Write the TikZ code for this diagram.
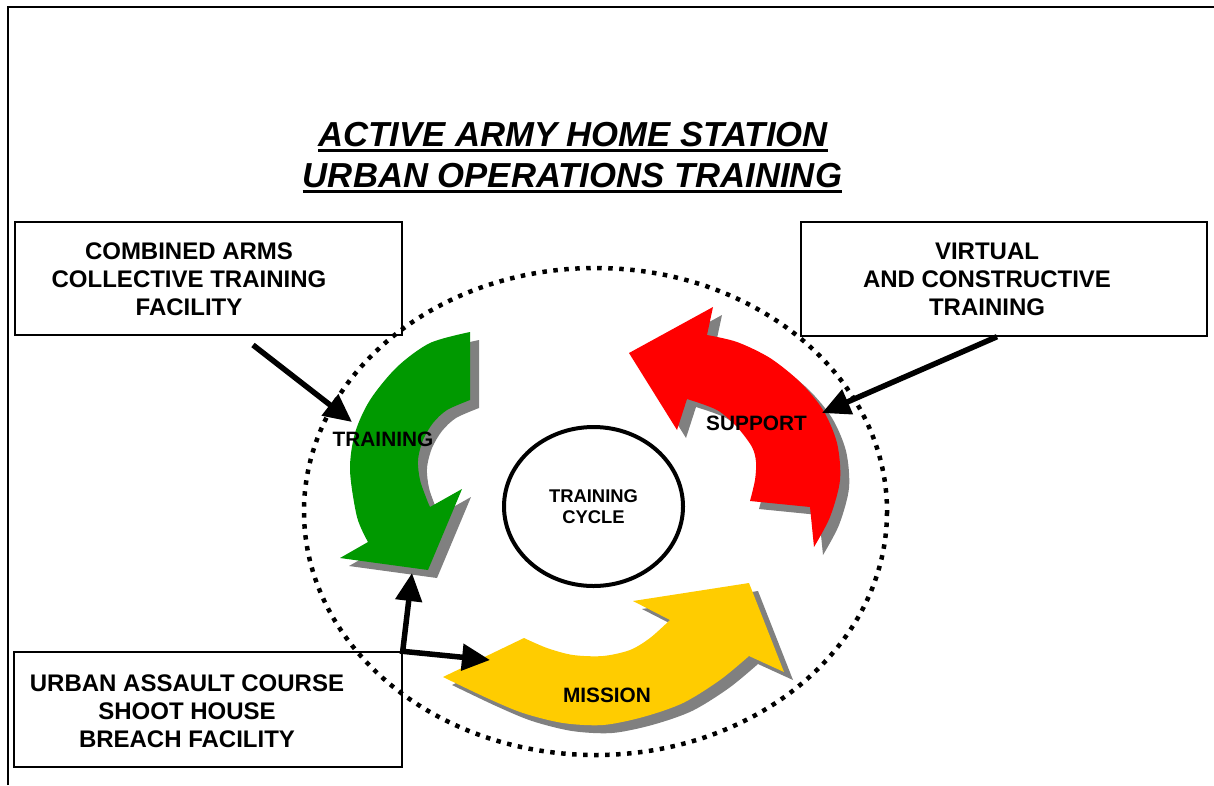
\documentclass[tikz,border=0pt]{standalone}
\usepackage{fontspec}
\setmainfont{Liberation Sans}
\usepackage{tikz}
\usetikzlibrary{shapes.geometric,arrows.meta,positioning}

\definecolor{armygreen}{RGB}{0,153,0}
\definecolor{supportred}{RGB}{255,0,0}
\definecolor{missionyellow}{RGB}{255,204,0}
\definecolor{shadowgray}{RGB}{128,128,128}

\tikzset{
    infobox/.style={draw, line width=1.4, inner sep=0},
    boxtext/.style={align=center, inner sep=0, font=\fontsize{24}{28}\selectfont\bfseries},
    arrowtext/.style={inner sep=0, font=\fontsize{20.8}{24}\selectfont\bfseries},
    titletext/.style={anchor=base, inner sep=0, font=\fontsize{34.7}{41}\selectfont\bfseries\itshape},
    underbar/.style={line width=2.6},
    pointer/.style={line width=5.5, -{Triangle[length=28pt,width=26pt]}},
}

% curved arrow with its grey drop shadow
\newcommand{\cyclearrow}[2]{%
    \fill[shadowgray, shift={(9,8)}] #2;
    \fill[#1] #2;
}

\begin{document}
\begin{tikzpicture}[x=1pt, y=-1pt]
    \useasboundingbox (0,0) rectangle (1214,785);

    % page frame
    \draw[line width=2] (7.5,785) -- (7.5,6.5) -- (1214,6.5);

    % title, underlined
    \node[titletext] (titleTop) at (573,146) {ACTIVE ARMY HOME STATION};
    \node[titletext] (titleBottom) at (572.5,187) {URBAN OPERATIONS TRAINING};
    \foreach \t in {titleTop, titleBottom}
        \draw[underbar] ([yshift=-4.5pt]\t.base west) -- ([yshift=-4.5pt]\t.base east);

    % facility boxes
    \node[infobox, minimum width=387, minimum height=113] (combined) at (208.5,278.5) {};
    \node[infobox, minimum width=406, minimum height=114] (virtual) at (1004,279) {};
    \node[infobox, minimum width=388, minimum height=115] (urban) at (208,709.5) {};
    \node[boxtext] (combinedText) at (189,279.6) {COMBINED ARMS\\COLLECTIVE TRAINING\\FACILITY};
    \node[boxtext] (virtualText) at (987,279.6) {VIRTUAL\\AND CONSTRUCTIVE\\TRAINING};
    \node[boxtext] (urbanText) at (187,711.6) {URBAN ASSAULT COURSE\\SHOOT HOUSE\\BREACH FACILITY};

    % dotted ring round the cycle
    \draw[line width=4.5, dash pattern=on 4.5pt off 6.5pt] (595.5,511.5) ellipse [x radius=291.5, y radius=243.5];

    % the three arrows of the cycle
    \cyclearrow{armygreen}{(470,332) -- (470,400)
        -- plot[smooth] coordinates {(470,400) (447,410) (433,423) (423,440) (418,460) (420,480) (427,500) (430,507)}
        -- (462,489) -- (428,570) -- (340,558)
        -- plot[smooth] coordinates {(368,542) (357,517) (350,470) (355,433) (370,400) (397,367) (430,343) (470,332)}
        -- cycle}
    \cyclearrow{supportred}{(629,353) -- (713,307) -- (707,335)
        -- plot[smooth] coordinates {(707,335) (737,342) (770,358) (800,382) (823,410) (837,443) (840,480) (830,517) (814,547)}
        -- (810,507) -- (750,501)
        -- plot[smooth] coordinates {(750,501) (755,480) (756,462) (752,447) (737,427) (717,410) (687,399)}
        -- (677,430) -- cycle}
    \cyclearrow{missionyellow}{(443,677) -- (524,638)
        -- plot[smooth] coordinates {(524,638) (547,648) (573,655) (603,656) (630,650) (650,638) (670,620)}
        -- (633,601) -- (749,583) -- (784,672) -- (749,656)
        -- plot[smooth] coordinates {(749,656) (720,680) (683,703) (643,717) (603,725) (563,723) (523,713) (487,698) (443,677)}
        -- cycle}

    \foreach \name/\x/\y/\txt in {training/383/439.5/TRAINING, support/756.5/423.5/SUPPORT, mission/607/695/MISSION}
        \node[arrowtext] (\name) at (\x,\y) {\txt};

    % centre
    \node[ellipse, draw, line width=4, minimum width=179, minimum height=159, align=center,
          font=\fontsize{18.4}{21}\selectfont\bfseries] (cycle) at (593.5,506.5) {TRAINING\\CYCLE};

    % pointers from the boxes
    \coordinate (combinedFoot) at (253,345);
    \coordinate (trainingTip) at (352,422);
    \coordinate (supportTip) at (822,413);
    \coordinate (greenTip) at (412,573);
    \coordinate (missionTip) at (490,660);
    \draw[pointer] (combinedFoot) -- (trainingTip);
    \draw[pointer] ([xshift=-7pt]virtual.south) -- (supportTip);
    \draw[pointer, {Triangle[length=28pt,width=26pt]}-{Triangle[length=28pt,width=26pt]}]
        (greenTip) -- (urban.north east) -- (missionTip);
\end{tikzpicture}
\end{document}
